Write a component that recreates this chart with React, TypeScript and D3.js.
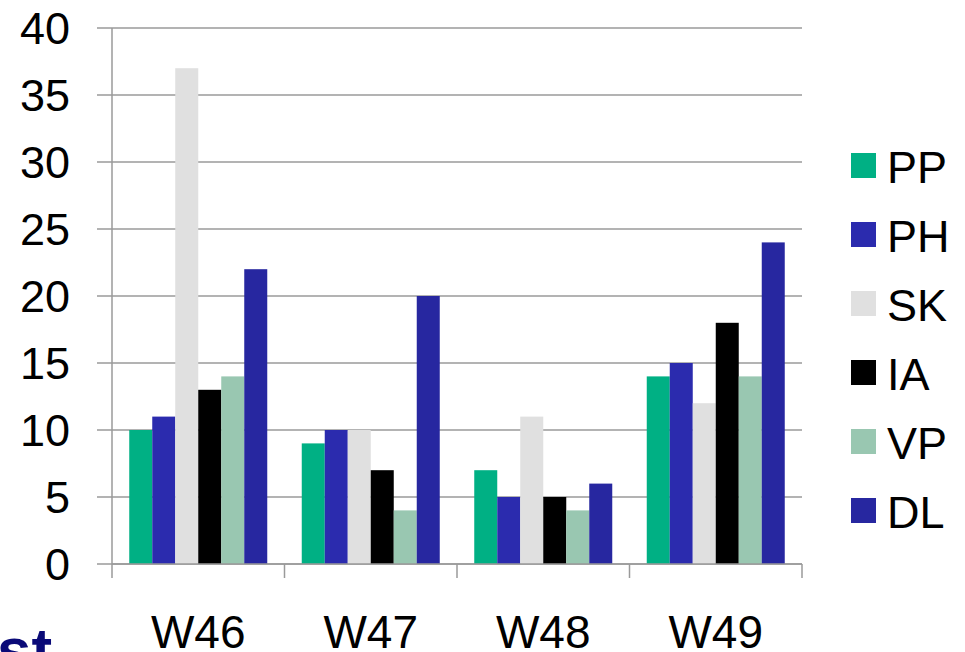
import React, { useEffect, useRef } from "react";
import * as d3 from "d3";

const weeks = ["W46", "W47", "W48", "W49"];
const seriesNames = ["PP", "PH", "SK", "IA", "VP", "DL"];
const seriesColors = ["#00b084", "#2b2bae", "#e0e0e0", "#000000", "#99c7b1", "#2727a0"];
const ppValues = [10, 9, 7, 14];
const phValues = [11, 10, 5, 15];
const skValues = [37, 10, 11, 12];
const iaValues = [13, 7, 5, 18];
const vpValues = [14, 4, 4, 14];
const dlValues = [22, 20, 6, 24];
const yTicks = [0, 5, 10, 15, 20, 25, 30, 35, 40];

const allValues = [ppValues, phValues, skValues, iaValues, vpValues, dlValues];

const App: React.FC = () => {
  const svgRef = useRef(null);

  useEffect(() => {
    const w = 965;
    const h = 652;
    const left = 112;
    const right = 802;
    const top = 28;
    const bottom = 564;
    const font = "Arial, 'Liberation Sans', sans-serif";

    const svg = d3.select(svgRef.current).attr("width", w).attr("height", h);

    const x0 = d3.scaleBand().domain(weeks).range([left, right]).paddingInner(0).paddingOuter(0);
    const x1 = d3
      .scaleBand()
      .domain(seriesNames)
      .range([0, x0.bandwidth()])
      .paddingOuter(0.75)
      .paddingInner(0);
    const y = d3.scaleLinear().domain([0, 40]).range([bottom, top]);

    // gridlines + y ticks
    svg
      .append("g")
      .selectAll("line")
      .data(yTicks)
      .enter()
      .append("line")
      .attr("x1", left - 15)
      .attr("x2", right)
      .attr("y1", (d) => y(d))
      .attr("y2", (d) => y(d))
      .attr("stroke", "#9a9a9a")
      .attr("stroke-width", 1.5);

    svg
      .append("g")
      .selectAll("text")
      .data(yTicks)
      .enter()
      .append("text")
      .attr("x", 70)
      .attr("y", (d) => y(d))
      .attr("dy", "0.36em")
      .attr("text-anchor", "end")
      .style("font-family", font)
      .style("font-size", "45px")
      .text((d) => d);

    // bars
    const groups = svg
      .append("g")
      .selectAll("g")
      .data(weeks)
      .enter()
      .append("g")
      .attr("transform", (d) => `translate(${x0(d)},0)`);

    groups
      .selectAll("rect")
      .data((d, i) => seriesNames.map((s, j) => ({ s, v: allValues[j][i], c: seriesColors[j] })))
      .enter()
      .append("rect")
      .attr("x", (d) => x1(d.s))
      .attr("width", x1.bandwidth())
      .attr("y", (d) => y(d.v))
      .attr("height", (d) => bottom - y(d.v))
      .attr("fill", (d) => d.c);

    // axes
    svg
      .append("line")
      .attr("x1", left)
      .attr("x2", left)
      .attr("y1", top)
      .attr("y2", bottom + 14)
      .attr("stroke", "#9a9a9a")
      .attr("stroke-width", 1.5);

    svg
      .append("line")
      .attr("x1", left)
      .attr("x2", right)
      .attr("y1", bottom)
      .attr("y2", bottom)
      .attr("stroke", "#9a9a9a")
      .attr("stroke-width", 1.5);

    const boundaries = weeks.map((d) => (x0(d) as number) + x0.bandwidth());
    svg
      .append("g")
      .selectAll("line")
      .data(boundaries)
      .enter()
      .append("line")
      .attr("x1", (d) => d)
      .attr("x2", (d) => d)
      .attr("y1", bottom)
      .attr("y2", bottom + 14)
      .attr("stroke", "#9a9a9a")
      .attr("stroke-width", 1.5);

    svg
      .append("g")
      .selectAll("text")
      .data(weeks)
      .enter()
      .append("text")
      .attr("x", (d) => (x0(d) as number) + x0.bandwidth() / 2)
      .attr("y", 648)
      .attr("text-anchor", "middle")
      .style("font-family", font)
      .style("font-size", "46px")
      .text((d) => d);

    // legend
    const legend = svg
      .append("g")
      .selectAll("g")
      .data(seriesNames)
      .enter()
      .append("g")
      .attr("transform", (d, i) => `translate(851, ${165.5 + i * 69})`);

    legend
      .append("rect")
      .attr("x", 0)
      .attr("y", -12.5)
      .attr("width", 25)
      .attr("height", 25)
      .attr("fill", (d, i) => seriesColors[i]);

    legend
      .append("text")
      .attr("x", 36)
      .attr("y", 17)
      .style("font-family", font)
      .style("font-size", "45px")
      .text((d) => d);

    // cut-off slide title fragment
    svg
      .append("text")
      .attr("x", -3)
      .attr("y", 671)
      .style("font-family", font)
      .style("font-size", "62px")
      .style("font-weight", "bold")
      .attr("fill", "#0a0a78")
      .text("st");

    return () => {
      svg.selectAll("*").remove();
    };
  }, []);

  return (
    <div style={{ position: "absolute", left: 0, top: 0 }}>
      <svg ref={svgRef} style={{ display: "block" }} />
    </div>
  );
};

export default App;
